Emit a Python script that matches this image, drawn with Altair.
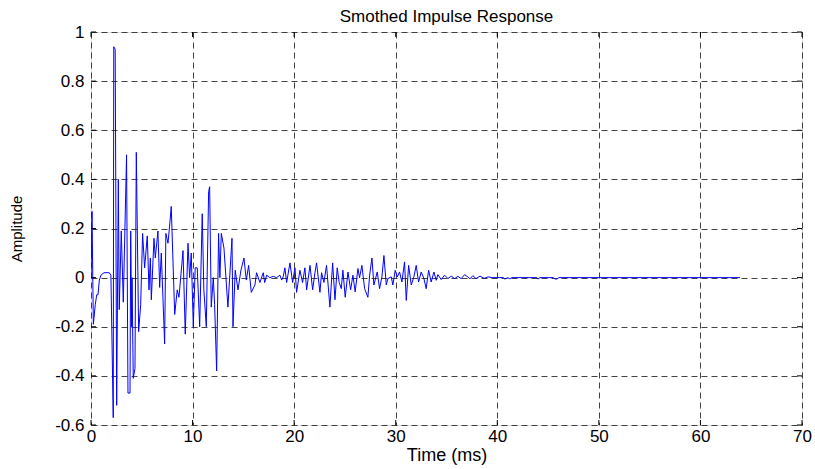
import altair as alt
import pandas as pd

# Impulse response samples (time in ms, amplitude)
time_ms = [
    0.00, 0.10, 0.23, 0.42, 0.56, 0.69, 0.82, 0.98, 1.28, 1.80, 1.96, 2.19, 2.24, 2.38, 2.53,
    2.69, 2.78, 2.98, 3.18, 3.50, 3.64, 3.84, 3.91, 4.00, 4.04, 4.16, 4.33, 4.46, 4.69, 4.89,
    5.08, 5.28, 5.54, 5.71, 5.84, 5.94, 6.20, 6.33, 6.59, 6.76, 6.92, 7.25, 7.37, 7.58, 7.78,
    7.90, 8.24, 8.49, 8.66, 9.06, 9.28, 9.55, 9.71, 9.87, 10.07, 10.26, 10.46, 10.70, 10.95, 11.11,
    11.35, 11.58, 11.68, 11.84, 12.04, 12.17, 12.37, 12.56, 12.69, 12.83, 13.09, 13.48, 13.88, 13.98, 14.20,
    14.47, 14.76, 15.06, 15.29, 15.52, 15.78, 16.14, 16.30, 16.63, 16.96, 17.10, 17.29, 17.60, 17.95, 18.28,
    18.60, 18.77, 18.93, 19.09, 19.26, 19.59, 19.85, 20.08, 20.24, 20.57, 20.83, 21.06, 21.23, 21.56, 21.82,
    22.05, 22.21, 22.54, 22.70, 22.93, 23.19, 23.52, 23.79, 24.02, 24.24, 24.44, 24.64, 24.80, 25.03, 25.30,
    25.56, 25.79, 26.01, 26.28, 26.44, 26.67, 26.94, 27.26, 27.43, 27.66, 27.85, 28.18, 28.41, 28.64, 28.84,
    29.07, 29.23, 29.56, 29.72, 29.95, 30.15, 30.38, 30.61, 30.87, 31.04, 31.27, 31.53, 31.79, 32.02, 32.25,
    32.51, 32.78, 33.00, 33.24, 33.49, 33.76, 33.99, 34.15, 34.48, 34.81, 35.14, 35.46, 35.80, 36.12, 36.45,
    36.78, 37.10, 37.30, 37.60, 37.90, 38.30, 38.70, 39.10, 39.50, 40.60, 40.75, 41.04, 41.24, 41.40, 43.90,
    44.00, 44.20, 45.50, 45.67, 45.87, 46.06, 63.90,
]
amplitude = [
    0.00, 0.27, -0.19, -0.11, -0.07, -0.07, -0.01, 0.01, 0.02, 0.02, 0.01, -0.57, 0.94, 0.93, -0.52,
    0.40, -0.13, 0.19, -0.10, 0.50, -0.47, -0.47, 0.19, -0.20, 0.00, -0.41, -0.37, 0.51, -0.22, -0.11,
    0.18, 0.04, 0.17, -0.05, 0.08, -0.09, 0.16, 0.08, 0.19, -0.04, 0.10, -0.27, 0.18, 0.14, 0.23,
    0.29, -0.15, -0.05, -0.08, 0.11, -0.23, 0.14, 0.00, 0.10, -0.20, 0.04, 0.04, -0.20, 0.26, -0.05,
    -0.20, 0.35, 0.37, -0.12, 0.00, -0.11, -0.38, 0.18, 0.00, 0.18, 0.12, -0.12, 0.16, -0.20, 0.03,
    -0.05, 0.03, 0.08, -0.01, 0.05, -0.06, -0.03, 0.02, -0.02, 0.02, -0.02, 0.01, 0.00, 0.005, 0.00,
    0.01, -0.01, 0.005, 0.04, -0.02, 0.06, -0.02, 0.04, -0.06, 0.03, -0.02, 0.04, -0.05, 0.05, -0.05,
    0.02, 0.06, -0.06, 0.02, -0.02, 0.05, -0.12, 0.06, -0.09, 0.04, -0.02, -0.045, 0.03, -0.08, 0.023,
    -0.05, 0.01, -0.058, 0.037, 0.00, 0.05, -0.045, -0.08, 0.01, 0.08, -0.03, 0.023, -0.045, 0.003, 0.09,
    -0.03, -0.004, 0.003, -0.03, 0.03, 0.003, 0.023, -0.018, 0.064, -0.093, 0.05, -0.03, 0.003, 0.05, -0.018,
    0.023, -0.004, -0.045, 0.03, -0.018, 0.023, -0.011, 0.012, -0.008, 0.01, -0.004, 0.006, -0.004, 0.005, -0.004,
    0.012, 0.003, -0.005, 0.008, -0.004, 0.006, -0.003, 0.003, 0.00, 0.00, -0.006, 0.00, -0.005, 0.00, 0.00,
    -0.006, 0.00, 0.00, -0.005, -0.006, 0.00, 0.00,
]

x_ticks = [0, 10, 20, 30, 40, 50, 60, 70]
y_ticks = [-0.6, -0.4, -0.2, 0, 0.2, 0.4, 0.6, 0.8, 1]

title_text = "Smothed Impulse Response"
x_title = "Time (ms)"
y_title = "Amplitude"

FONT = "Liberation Sans"
W, H = 711, 393

df = pd.DataFrame({"t": time_ms, "a": amplitude})
xt = pd.DataFrame({"v": x_ticks})
yt = pd.DataFrame({"v": y_ticks})

xscale = alt.Scale(domain=[0, 70], nice=False, zero=False)
yscale = alt.Scale(domain=[-0.6, 1], nice=False, zero=False)

line = alt.Chart(df).mark_line(color="#0000ff", strokeWidth=1, clip=True).encode(
    x=alt.X("t:Q", scale=xscale, axis=alt.Axis(
        values=x_ticks, title=x_title, grid=True, gridDash=[6, 4], gridColor="#222222",
        gridOpacity=0.85, ticks=False, domain=False, labelFontSize=17, labelFont=FONT,
        labelColor="#000000", labelPadding=3, titleFont=FONT, titleFontSize=18,
        titleFontWeight="normal", titleColor="#000000", titlePadding=2,
        labelFlush=False)),
    y=alt.Y("a:Q", scale=yscale, axis=alt.Axis(
        values=y_ticks, title=y_title, grid=True, gridDash=[6, 4], gridColor="#222222",
        gridOpacity=0.85, ticks=False, domain=False, labelFontSize=17, labelFont=FONT,
        labelColor="#000000", labelPadding=7, labelExpr="'' + datum.value",
        titleFont=FONT, titleFontSize=15, titleFontWeight="normal", titleColor="#000000",
        titlePadding=30, labelFlush=False)),
)

tick_len = 5
x_bottom = alt.Chart(xt).mark_rule(color="#000000", strokeWidth=1).encode(
    x=alt.X("v:Q", scale=xscale), y=alt.value(H), y2=alt.value(H - tick_len))
x_top = alt.Chart(xt).mark_rule(color="#000000", strokeWidth=1).encode(
    x=alt.X("v:Q", scale=xscale), y=alt.value(0), y2=alt.value(tick_len))
y_left = alt.Chart(yt).mark_rule(color="#000000", strokeWidth=1).encode(
    y=alt.Y("v:Q", scale=yscale), x=alt.value(0), x2=alt.value(tick_len))
y_right = alt.Chart(yt).mark_rule(color="#000000", strokeWidth=1).encode(
    y=alt.Y("v:Q", scale=yscale), x=alt.value(W), x2=alt.value(W - tick_len))

chart = alt.layer(line, x_bottom, x_top, y_left, y_right).properties(
    width=W, height=H,
    title=alt.Title(title_text, font=FONT, fontSize=17, fontWeight="normal",
                    color="#000000", anchor="middle", offset=-3),
    autosize=alt.AutoSizeParams(type="none"),
    padding={"left": 91, "top": 32, "right": 13, "bottom": 44},
).configure_view(stroke="#000000", strokeWidth=1.2).configure(background="#ffffff")

chart.save("out.html", embed_options={"renderer": "svg", "actions": False})
